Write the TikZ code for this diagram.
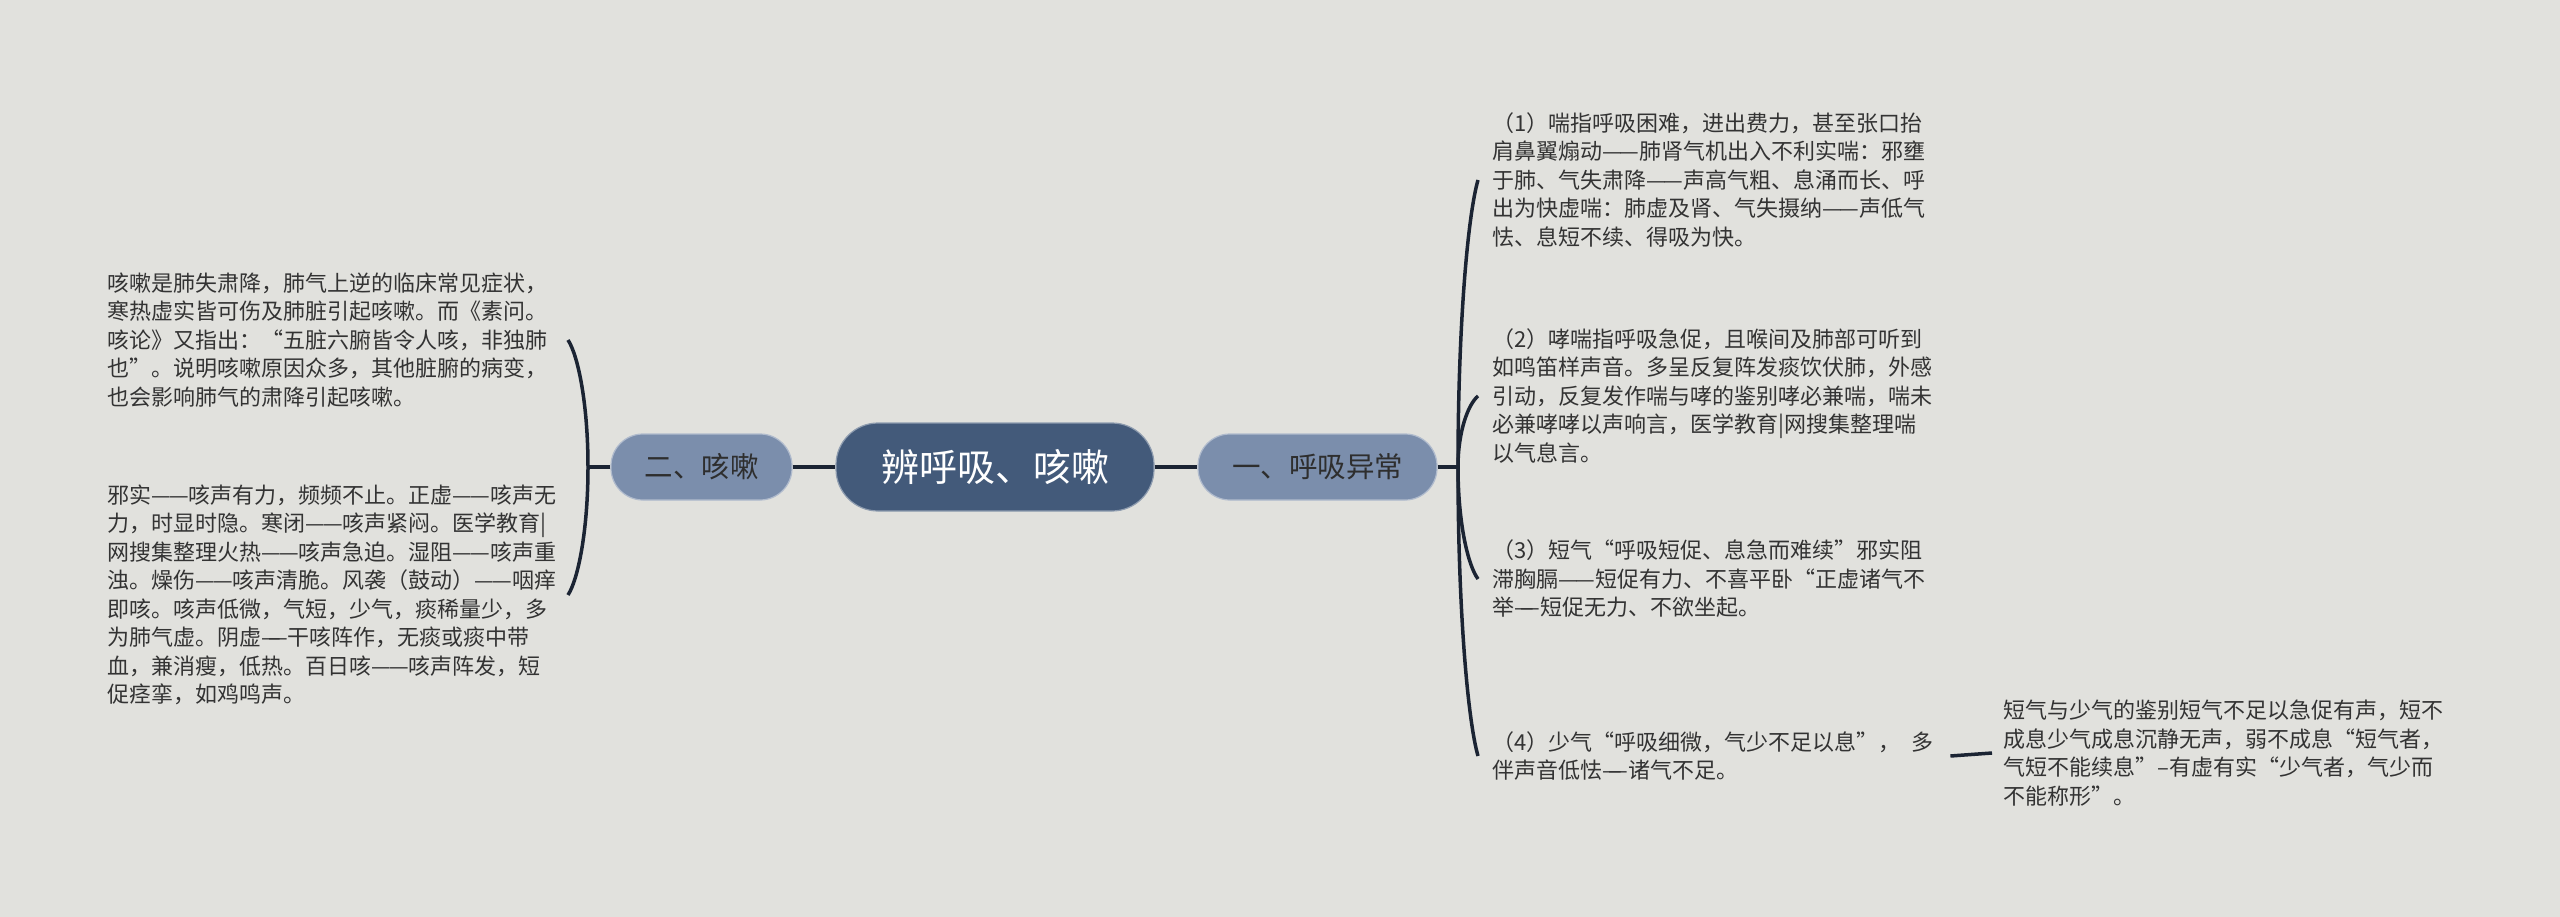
\documentclass[tikz,border=0pt]{standalone}
\usepackage{fontspec}
\setmainfont{Noto Sans CJK SC}
\usetikzlibrary{calc}
\definecolor{bg}{HTML}{E1E1DD}
\definecolor{rootfill}{HTML}{435A7A}
\definecolor{subfill}{HTML}{7B8EAC}
\definecolor{linec}{HTML}{1B2433}
\definecolor{txt}{HTML}{333333}
\newcommand{\lngdash}{—\kern-0.1em—}
\newcommand{\shtdash}{—\kern-0.6em—}
\begin{document}
\begin{tikzpicture}[x=1pt,y=-1pt,
  rootbox/.style={fill=rootfill, draw=rootfill!60!white, line width=1.2pt, rounded corners=42pt,
    minimum width=318pt, minimum height=88pt, inner sep=0pt, text=white,
    font=\fontsize{38}{44}\selectfont},
  branchbox/.style={fill=subfill, draw=subfill!60!white, line width=1.2pt, rounded corners=32pt,
    minimum height=66pt, inner sep=0pt, text=black!82,
    font=\fontsize{28.5}{34}\selectfont},
  leaf/.style={inner sep=0pt, align=left, text=txt, font=\fontsize{22}{28.5}\selectfont},
  conn/.style={draw=linec, line width=3.5pt},
]
\fill[bg] (0,0) rectangle (2560,917);
\useasboundingbox (0,0) rectangle (2560,917);

\node[rootbox] (root) at (995,467) {辨呼吸、咳嗽};
\node[branchbox, minimum width=181pt] (b2) at (701.5,467) {二、咳嗽};
\node[branchbox, minimum width=239pt] (b1) at (1317.5,467) {一、呼吸异常};

\node[leaf, text width=450pt, anchor=east] (l1) at (558,340) {咳嗽是肺失肃降，肺气上逆的临床常见症状，\\寒热虚实皆可伤及肺脏引起咳嗽。而《素问。\\咳论》又指出：“五脏六腑皆令人咳，非独肺\\也”。说明咳嗽原因众多，其他脏腑的病变，\\也会影响肺气的肃降引起咳嗽。};
\node[leaf, text width=450pt, anchor=east] (l2) at (558,595) {邪实\lngdash 咳声有力，频频不止。正虚\lngdash 咳声无\\力，时显时隐。寒闭\lngdash 咳声紧闷。医学教育|\\网搜集整理火热\lngdash 咳声急迫。湿阻\lngdash 咳声重\\浊。燥伤\lngdash 咳声清脆。风袭（鼓动）\lngdash 咽痒\\即咳。咳声低微，气短，少气，痰稀量少，多\\为肺气虚。阴虚\shtdash 干咳阵作，无痰或痰中带\\血，兼消瘦，低热。百日咳\lngdash 咳声阵发，短\\促痉挛，如鸡鸣声。};

\node[leaf, text width=445pt, anchor=west] (r1) at (1492,180) {（1）喘指呼吸困难，进出费力，甚至张口抬\\肩鼻翼煽动\lngdash 肺肾气机出入不利实喘：邪壅\\于肺、气失肃降\lngdash 声高气粗、息涌而长、呼\\出为快虚喘：肺虚及肾、气失摄纳\lngdash 声低气\\怯、息短不续、得吸为快。};
\node[leaf, text width=445pt, anchor=west] (r2) at (1492,396) {（2）哮喘指呼吸急促，且喉间及肺部可听到\\如鸣笛样声音。多呈反复阵发痰饮伏肺，外感\\引动，反复发作喘与哮的鉴别哮必兼喘，喘未\\必兼哮哮以声响言，医学教育|网搜集整理喘\\以气息言。};
\node[leaf, text width=445pt, anchor=west] (r3) at (1492,579) {（3）短气“呼吸短促、息急而难续”邪实阻\\滞胸膈\lngdash 短促有力、不喜平卧“正虚诸气不\\举\shtdash 短促无力、不欲坐起。};
\node[leaf, text width=445pt, anchor=west] (r4) at (1492,756) {（4）少气“呼吸细微，气少不足以息”，\hspace{0.5em}多\\伴声音低怯\shtdash 诸气不足。};

\node[leaf, text width=455pt, anchor=west] (s1) at (2003,753) {短气与少气的鉴别短气不足以急促有声，短不\\成息少气成息沉静无声，弱不成息“短气者，\\气短不能续息”–有虚有实“少气者，气少而\\不能称形”。};

\coordinate (JL) at (588,467);
\coordinate (JR) at (1458,467);

\draw[conn] (b2.east) -- (root.west);
\draw[conn] (root.east) -- (b1.west);
\draw[conn] (b2.west) -- (JL);
\draw[conn] (b1.east) -- (JR);
\foreach \n in {l1,l2}{
  \coordinate (E) at ([xshift=10pt]\n.east);
  \draw[conn] (JL) .. controls ($(JL)!0.5!(JL |- E)$) and ($(E)!0.12!(E |- JL) + (10,0)$) .. (E);
}
\foreach \n in {r1,r2,r3,r4}{
  \coordinate (E) at ([xshift=-14pt]\n.west);
  \draw[conn] (JR) .. controls ($(JR)!0.5!(JR |- E)$) and ($(E)!0.12!(E |- JR) + (-10,0)$) .. (E);
}
\draw[conn] ([xshift=13pt]r4.east) -- ([xshift=-11pt]s1.west);
\end{tikzpicture}
\end{document}
